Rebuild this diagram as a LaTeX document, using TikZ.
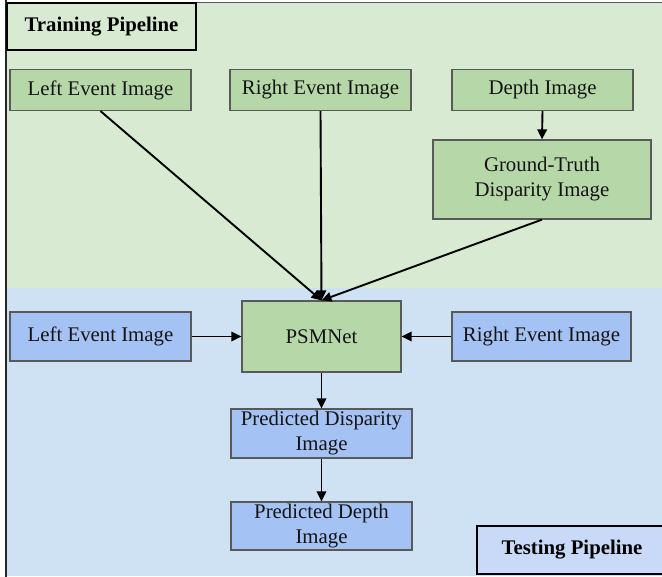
\documentclass[tikz,border=0pt]{standalone}
\usepackage{fontspec}
\setmainfont{Liberation Serif}
\usetikzlibrary{arrows.meta}

\definecolor{trainbg}{HTML}{D9EAD3}
\definecolor{trainbox}{HTML}{B6D7A8}
\definecolor{testbg}{HTML}{CFE2F3}
\definecolor{testbox}{HTML}{A4C2F4}
\definecolor{testlabel}{HTML}{C9DAF8}
\definecolor{edgegray}{HTML}{595959}

\tikzset{
  stagebox/.style={draw=edgegray, line width=1.2pt, rectangle, align=center,
    inner sep=0pt, font=\fontsize{20.8}{25}\selectfont, text=black!92},
  trainnode/.style={stagebox, fill=trainbox},
  testnode/.style={stagebox, fill=testbox},
  pipelabel/.style={draw=black, line width=2.6pt, rectangle, inner sep=0pt,
    font=\fontsize{20.8}{25}\selectfont\bfseries},
  flow/.style={line width=1.9pt, -{Triangle[length=10pt,width=9.5pt]}},
}

\begin{document}
\begin{tikzpicture}[x=1pt,y=-1pt]
\useasboundingbox (0,0) rectangle (662,577);
\begin{scope}
\clip (0,0) rectangle (662,577);
% pipeline regions
\fill[trainbg] (6,2) rectangle (662,288);
\fill[testbg] (6,288) rectangle (662,576);
\draw[edgegray, line width=1pt] (6,2.5) -- (662,2.5);
\draw[black!85, line width=2.4pt] (6,0) -- (6,577);

% training stage
\node[pipelabel, fill=trainbg, minimum width=189pt, minimum height=47pt] (trainlbl) at (101.5,26.5) {Training Pipeline};
\node[trainnode, minimum width=181pt, minimum height=41pt] (lefttr) at (100.5,90) {Left Event Image};
\node[trainnode, minimum width=181pt, minimum height=41pt] (righttr) at (320.5,90) {Right Event Image};
\node[trainnode, minimum width=181pt, minimum height=41pt] (depth) at (542.5,90) {Depth Image};
\node[trainnode, minimum width=218pt, minimum height=79pt] (gt) at (542,179.5) {Ground-Truth\\Disparity Image};

% network and testing stage
\node[trainnode, minimum width=159pt, minimum height=71pt] (net) at (321.5,336.5) {PSMNet};
\node[testnode, minimum width=181pt, minimum height=49pt] (leftte) at (100.5,336.5) {Left Event Image};
\node[testnode, minimum width=179pt, minimum height=49pt] (rightte) at (541.5,336.5) {Right Event Image};
\node[testnode, minimum width=181pt, minimum height=49pt] (disp) at (321.5,433.5) {Predicted Disparity\\Image};
\node[testnode, minimum width=181pt, minimum height=48pt] (pdepth) at (321.5,526) {Predicted Depth\\Image};
\node[pipelabel, fill=testlabel, minimum width=190pt, minimum height=48pt] (testlbl) at (572,550) {Testing Pipeline};

% connectors
\draw[flow] (lefttr.south) -- (net.north);
\draw[flow] (righttr.south) -- (net.north);
\draw[flow] (gt.south) -- (net.north);
\draw[flow] (depth.south) -- (gt.north);
\draw[flow] (leftte.east) -- (net.west);
\draw[flow] (rightte.west) -- (net.east);
\draw[flow] (net.south) -- (disp.north);
\draw[flow] (disp.south) -- (pdepth.north);
\end{scope}
\end{tikzpicture}
\end{document}
